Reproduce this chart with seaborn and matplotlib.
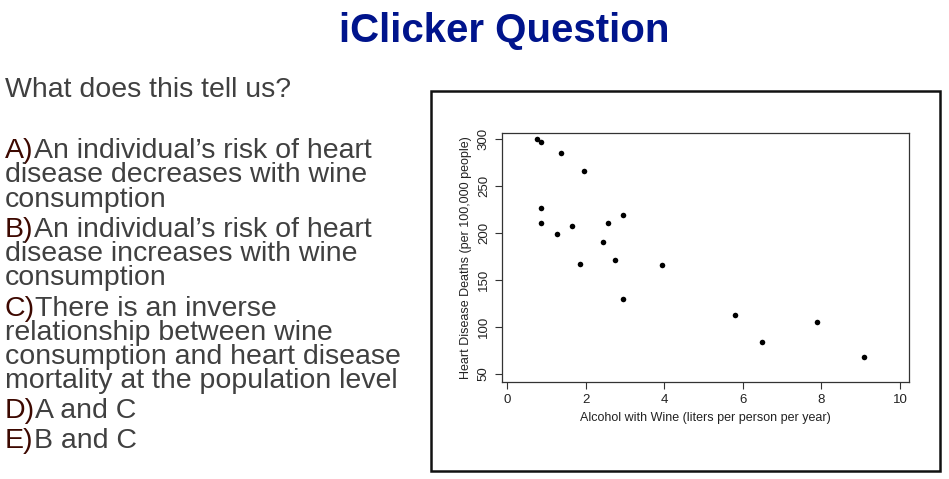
import matplotlib
matplotlib.use("Agg")
import matplotlib.pyplot as plt
import seaborn as sns
import pandas as pd
from matplotlib.patches import Rectangle

# ---- data ----
wine = [0.76, 0.87, 1.37, 1.96, 0.86, 0.86, 1.26, 1.66, 1.85, 2.44, 2.56, 2.95,
        2.75, 2.94, 3.94, 5.80, 6.50, 7.90, 9.09]
deaths = [300, 297, 285, 266, 227, 211, 199, 207, 167, 190, 210, 219,
          171, 130, 166, 113, 84, 105, 68]
x_ticks = [0, 2, 4, 6, 8, 10]
y_ticks = [50, 100, 150, 200, 250, 300]

title_text = "iClicker Question"
question_text = "What does this tell us?"
option_labels = ["A)", "B)", "C)", "D)", "E)"]
option_lines = [
    ["An individual\u2019s risk of heart", "disease decreases with wine", "consumption"],
    ["An individual\u2019s risk of heart", "disease increases with wine", "consumption"],
    ["There is an inverse", "relationship between wine",
     "consumption and heart disease", "mortality at the population level"],
    ["A and C"],
    ["B and C"],
]
x_label = "Alcohol with Wine (liters per person per year)"
y_label = "Heart Disease Deaths (per 100,000 people)"

sns.set_style("white")
plt.rcParams["font.family"] = ["Liberation Sans", "DejaVu Sans"]

W, H = 949, 479
fig = plt.figure(figsize=(W / 100, H / 100), dpi=100)
fig.patch.set_facecolor("white")


def fx(px):
    return px / W


def fy(py):
    return 1 - py / H


# title
fig.text(fx(504), fy(42.3), title_text, fontsize=29, fontweight="bold",
         color="#00148c", ha="center", va="baseline")

# question and options
text_col = "#404040"
label_col = "#3d0800"
fs = 20.5
fig.text(fx(5), fy(97.3), question_text, fontsize=fs, color=text_col,
         ha="left", va="baseline")

baselines = [[158, 182.3, 206.6], [236.7, 261, 285.3], [316, 340, 364, 388.3],
             [418.3], [448.3]]
for lab, lines, bls in zip(option_labels, option_lines, baselines):
    t = fig.text(fx(5), fy(bls[0]), lab, fontsize=fs, color=label_col,
                 ha="left", va="baseline")
    fig.canvas.draw()
    bb = t.get_window_extent()
    fig.text(bb.x1 / W, fy(bls[0]), lines[0], fontsize=fs, color=text_col,
             ha="left", va="baseline")
    for ln, bl in zip(lines[1:], bls[1:]):
        fig.text(fx(5), fy(bl), ln, fontsize=fs, color=text_col,
                 ha="left", va="baseline")

# outer frame around chart image
fig.patches.append(Rectangle((fx(431), fy(471)), fx(940) - fx(431), fy(91) - fy(471),
                             transform=fig.transFigure, fill=False,
                             edgecolor="#111111", linewidth=1.8))

# scatter axes
ax = fig.add_axes([fx(501.7), fy(381.7), fx(909) - fx(501.7), fy(132.7) - fy(381.7)])
df = pd.DataFrame({"wine": wine, "deaths": deaths})
sns.scatterplot(data=df, x="wine", y="deaths", ax=ax, color="black",
                s=16, edgecolor="black", linewidth=0, legend=False)
ax.set_xlim(-0.14, 10.23)
ax.set_ylim(41.5, 306.7)
ax.set_xticks(x_ticks)
ax.set_yticks(y_ticks)
ax.set_xticklabels([str(v) for v in x_ticks], fontsize=9.5, color="#222222")
ax.set_yticklabels([str(v) for v in y_ticks], fontsize=9.5, color="#222222",
                   rotation=90, va="center")
ax.tick_params(axis="both", direction="out", length=5, width=0.8,
               color="#333333", bottom=True, left=True, pad=3.5)
ax.set_xlabel(x_label, fontsize=9.0, color="#222222", labelpad=5)
ax.set_ylabel(y_label, fontsize=9.0, color="#222222", labelpad=4)
for sp in ax.spines.values():
    sp.set_visible(True)
    sp.set_color("#333333")
    sp.set_linewidth(0.9)

fig.savefig("out.png", dpi=100, facecolor="white")
